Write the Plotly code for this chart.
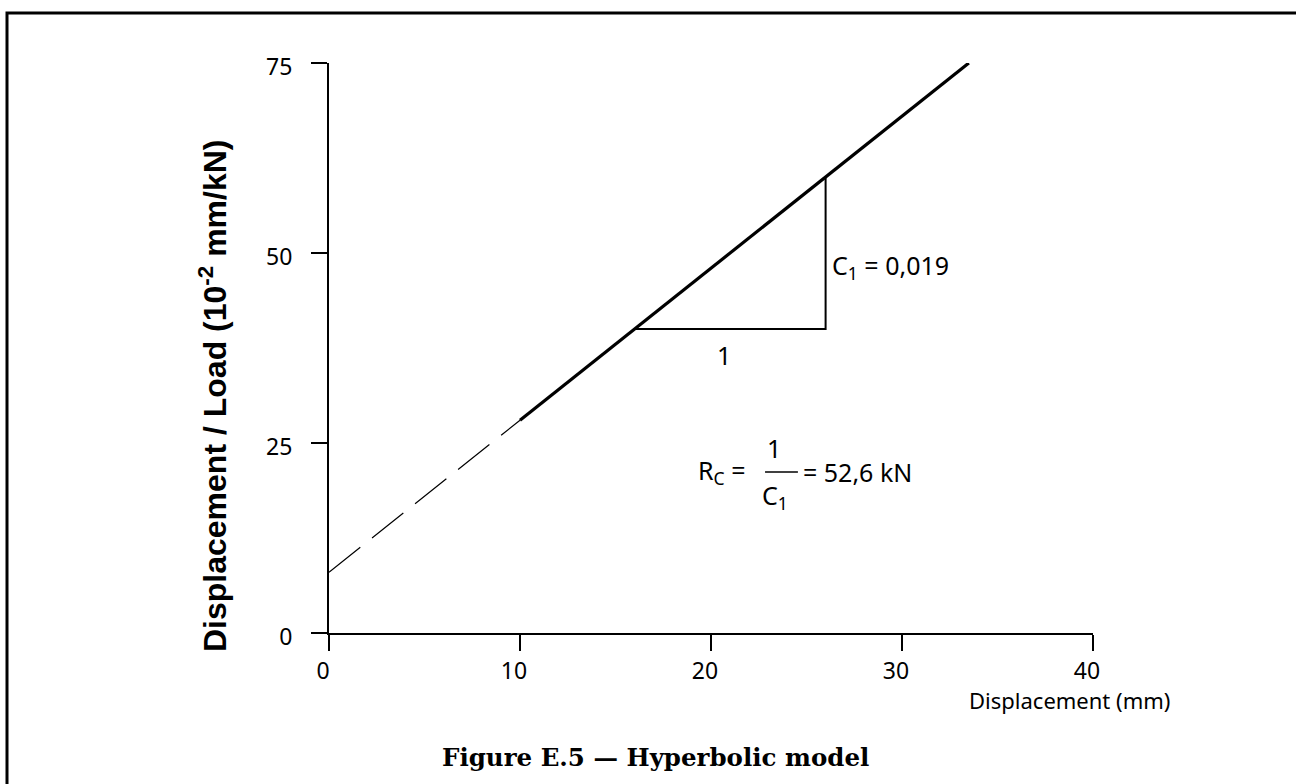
import plotly.graph_objects as go

# Data
dash_x = [0, 10]
dash_y = [8, 28]
solid_x = [10, 33.5]
solid_y = [28, 75]
tri_x = [16, 26, 26]
tri_y = [40, 40, 60]
x_ticks = [0, 10, 20, 30, 40]
y_ticks = [0, 25, 50, 75]

W, H = 1296, 784
ML, MR, MT, MB = 329, 203, 63, 151
PW = W - ML - MR
PH = H - MT - MB


def px(xp):
    return (xp - ML) / PW


def py(yp):
    return (H - MB - yp) / PH


SANS = "Noto Sans"
AF = dict(family=SANS, size=25, color="black")

fig = go.Figure()
fig.add_trace(go.Scatter(x=dash_x, y=dash_y, mode="lines",
                         line=dict(color="black", width=1.2, dash="40px,15px"),
                         hoverinfo="skip", showlegend=False))
fig.add_trace(go.Scatter(x=solid_x, y=solid_y, mode="lines",
                         line=dict(color="black", width=3.2),
                         hoverinfo="skip", showlegend=False))
fig.add_trace(go.Scatter(x=tri_x, y=tri_y, mode="lines",
                         line=dict(color="black", width=2),
                         hoverinfo="skip", showlegend=False))

ann = []
ann.append(dict(x=26.25, y=48.2, xref="x", yref="y", xanchor="left", yanchor="middle",
                text="C<sub>1</sub> = 0,019", showarrow=False, font=AF))
ann.append(dict(x=20.7, y=36.6, xref="x", yref="y", xanchor="center", yanchor="middle",
                text="1", showarrow=False, font=AF))
ann.append(dict(x=19.2, y=21.2, xref="x", yref="y", xanchor="left", yanchor="middle",
                text="R<sub>C</sub> =", showarrow=False, font=AF))
ann.append(dict(x=23.3, y=24.3, xref="x", yref="y", xanchor="center", yanchor="middle",
                text="1", showarrow=False, font=AF))
ann.append(dict(x=23.35, y=18.0, xref="x", yref="y", xanchor="center", yanchor="middle",
                text="C<sub>1</sub>", showarrow=False, font=AF))
ann.append(dict(x=24.7, y=21.2, xref="x", yref="y", xanchor="left", yanchor="middle",
                text="= 52,6 kN", showarrow=False, font=AF))
# axis titles and caption
ann.append(dict(x=px(213), y=py(396), xref="paper", yref="paper", xanchor="center", yanchor="middle",
                text="<b>Displacement / Load (10<sup>-2</sup> mm/kN)</b>", textangle=-90,
                showarrow=False, font=dict(family="Liberation Sans", size=32, color="black")))
ann.append(dict(x=px(1172), y=py(700), xref="paper", yref="paper", xanchor="right", yanchor="middle",
                text="Displacement (mm)", showarrow=False,
                font=dict(family=SANS, size=22, color="black")))
ann.append(dict(x=px(655), y=py(757), xref="paper", yref="paper", xanchor="center", yanchor="middle",
                text="<b>Figure E.5 — Hyperbolic model</b>", showarrow=False,
                font=dict(family="DejaVu Serif", size=24.5, color="black")))

shapes = [
    dict(type="line", xref="x", yref="y", x0=22.83, x1=24.55, y0=21.2, y1=21.2,
         line=dict(color="black", width=1.5)),
    dict(type="path", xref="paper", yref="paper",
         path=f"M {px(1300)} {py(13)} L {px(7)} {py(13)} L {px(7)} {py(790)}",
         line=dict(color="black", width=3)),
]

fig.update_layout(
    width=W, height=H,
    margin=dict(l=ML, r=MR, t=MT, b=MB, pad=0),
    paper_bgcolor="white", plot_bgcolor="white",
    showlegend=False,
    annotations=ann, shapes=shapes,
    xaxis=dict(range=[0, 40], tickvals=x_ticks, ticktext=[str(v) for v in x_ticks],
               showgrid=False, zeroline=False, showline=True, linecolor="black", linewidth=2,
               ticks="outside", ticklen=16, tickwidth=2, tickcolor="black",
               ticklabelshift=-6, ticklabelstandoff=0,
               tickfont=dict(family=SANS, size=23, color="black")),
    yaxis=dict(range=[0, 75], tickvals=y_ticks, ticktext=[str(v) for v in y_ticks],
               showgrid=False, zeroline=False, showline=True, linecolor="black", linewidth=2,
               ticks="outside", ticklen=16, tickwidth=2, tickcolor="black",
               ticklabelshift=4, ticklabelstandoff=14,
               tickfont=dict(family=SANS, size=23, color="black")),
)

fig.write_html("out.html")
